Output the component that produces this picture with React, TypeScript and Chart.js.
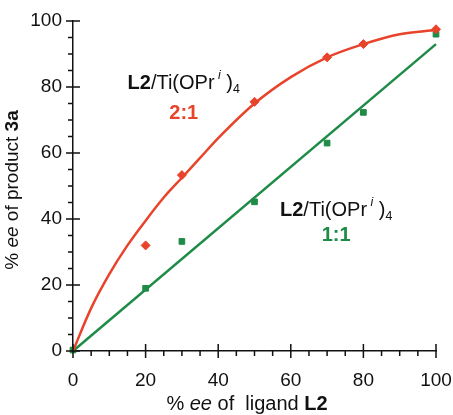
import React, { useEffect, useRef } from "react";
import { Chart, registerables } from "chart.js";

Chart.register(...registerables);

// ---- data ----
const axisTicks = [0, 20, 40, 60, 80, 100];
const ratio21X = [20, 30, 50, 70, 80, 100];
const ratio21Y = [32, 53.3, 75.5, 89, 93, 97.5];
const ratio11X = [0, 20, 30, 50, 70, 80, 100];
const ratio11Y = [0.3, 19, 33.2, 45.2, 63, 72.3, 96];
const fit21X = [0, 5, 10, 15, 20, 25, 30, 35, 40, 50, 60, 70, 80, 90, 100];
const fit21Y = [0, 13, 23.3, 32, 39.5, 46.5, 52.5, 58.5, 64.5, 75, 83, 89, 93, 96, 97.3];
const fit11X = [0, 100];
const fit11Y = [0, 93];

const RED = "#e8432b";
const GREEN = "#1e8b47";
const FONT = "'Liberation Sans', Arial, Helvetica, sans-serif";

const pts = (xs: number[], ys: number[]) => xs.map((x, i) => ({ x, y: ys[i] }));

type Seg = { t: string; font: string; dy?: number; color?: string };

function drawRich(ctx: CanvasRenderingContext2D, segs: Seg[], cx: number, cy: number, color: string) {
  let total = 0;
  for (const s of segs) {
    ctx.font = s.font;
    total += ctx.measureText(s.t).width;
  }
  let x = cx - total / 2;
  ctx.textBaseline = "middle";
  ctx.textAlign = "left";
  for (const s of segs) {
    ctx.font = s.font;
    ctx.fillStyle = s.color || color;
    ctx.fillText(s.t, x, cy + (s.dy || 0));
    x += ctx.measureText(s.t).width;
  }
}

const f = (style: string, size: number) => `${style} ${size}px ${FONT}`;

const annoSegs = (size: number): Seg[] => [
  { t: "L2", font: f("bold", size) },
  { t: "/Ti(OPr", font: f("normal", size) },
  { t: " i", font: f("italic", size * 0.62), dy: -size * 0.42 },
  { t: " )", font: f("normal", size) },
  { t: "4", font: f("normal", size * 0.62), dy: size * 0.28 },
];

const decorPlugin = {
  id: "decor",
  afterDraw(chart: any) {
    const ctx: CanvasRenderingContext2D = chart.ctx;
    const xs = chart.scales.x;
    const ys = chart.scales.y;
    const { left, bottom } = chart.chartArea;
    ctx.save();
    ctx.strokeStyle = "#111";
    ctx.lineWidth = 1.5;
    ctx.beginPath();
    for (let v = 0; v <= 100; v += 5) {
      const major = v % 20 === 0;
      const px = xs.getPixelForValue(v);
      ctx.moveTo(px, bottom + (major ? 7 : 5));
      ctx.lineTo(px, major ? bottom - 7 : bottom);
      const py = ys.getPixelForValue(v);
      ctx.moveTo(left - (major ? 7 : 5), py);
      ctx.lineTo(major ? left + 7 : left, py);
    }
    ctx.stroke();

    // annotations
    drawRich(ctx, annoSegs(20), xs.getPixelForValue(30.5), ys.getPixelForValue(81), "#111");
    drawRich(ctx, [{ t: "2:1", font: f("bold", 20) }], xs.getPixelForValue(30.5), ys.getPixelForValue(72), RED);
    drawRich(ctx, annoSegs(20), xs.getPixelForValue(72.5), ys.getPixelForValue(42.5), "#111");
    drawRich(ctx, [{ t: "1:1", font: f("bold", 20) }], xs.getPixelForValue(72.5), ys.getPixelForValue(35), GREEN);

    // axis titles
    drawRich(
      ctx,
      [
        { t: "% ", font: f("normal", 20) },
        { t: "ee", font: f("italic", 20) },
        { t: " of  ligand ", font: f("normal", 20) },
        { t: "L2", font: f("bold", 20) },
      ],
      247,
      404,
      "#111"
    );
    ctx.save();
    ctx.translate(13, 190);
    ctx.rotate(-Math.PI / 2);
    drawRich(
      ctx,
      [
        { t: "% ", font: f("normal", 19) },
        { t: "ee", font: f("italic", 19) },
        { t: " of product ", font: f("normal", 19) },
        { t: "3a", font: f("bold", 19) },
      ],
      0,
      0,
      "#111"
    );
    ctx.restore();
    ctx.restore();
  },
};

export default function App() {
  const ref = useRef<HTMLCanvasElement>(null);
  useEffect(() => {
    document.body.style.margin = "0";
    const canvas = ref.current!;
    const chart = new Chart(canvas, {
      type: "scatter",
      data: {
        datasets: [
          {
            label: "fit 2:1",
            data: pts(fit21X, fit21Y),
            showLine: true,
            borderColor: RED,
            borderWidth: 2.5,
            pointRadius: 0,
            cubicInterpolationMode: "monotone",
            clip: false,
          } as any,
          {
            label: "fit 1:1",
            data: pts(fit11X, fit11Y),
            showLine: true,
            borderColor: GREEN,
            borderWidth: 2.5,
            pointRadius: 0,
            clip: false,
          } as any,
          {
            label: "2:1",
            data: pts(ratio21X, ratio21Y),
            pointStyle: "rectRot",
            pointRadius: 4.5,
            backgroundColor: RED,
            borderColor: RED,
            borderWidth: 1,
            clip: false,
          } as any,
          {
            label: "1:1",
            data: pts(ratio11X, ratio11Y),
            pointStyle: "rect",
            pointRadius: 4,
            backgroundColor: GREEN,
            borderColor: GREEN,
            borderWidth: 1,
            clip: false,
          } as any,
        ],
      },
      options: {
        animation: false,
        responsive: false,
        layout: { padding: { left: 0, right: 17, top: 21, bottom: 0 } },
        plugins: { legend: { display: false }, tooltip: { enabled: false } },
        scales: {
          x: {
            type: "linear",
            min: 0,
            max: 100,
            afterBuildTicks: (s: any) => {
              s.ticks = axisTicks.map((v) => ({ value: v }));
            },
            afterFit: (s: any) => {
              s.height = 64;
              s.paddingLeft = 0;
              s.paddingRight = 0;
            },
            grid: { display: false, drawTicks: false },
            border: { display: true, color: "#111", width: 1.5 },
            ticks: { color: "#111", font: { size: 19, family: FONT }, padding: 18, maxRotation: 0 },
          },
          y: {
            type: "linear",
            min: 0,
            max: 100,
            afterBuildTicks: (s: any) => {
              s.ticks = axisTicks.map((v) => ({ value: v }));
            },
            afterFit: (s: any) => {
              s.width = 73;
              s.paddingTop = 0;
              s.paddingBottom = 0;
            },
            grid: { display: false, drawTicks: false },
            border: { display: true, color: "#111", width: 1.5 },
            ticks: { color: "#111", font: { size: 19, family: FONT }, padding: 11 },
          },
        },
      },
      plugins: [decorPlugin],
    } as any);
    return () => chart.destroy();
  }, []);
  return <canvas ref={ref} width={453} height={415} style={{ display: "block" }} />;
}
